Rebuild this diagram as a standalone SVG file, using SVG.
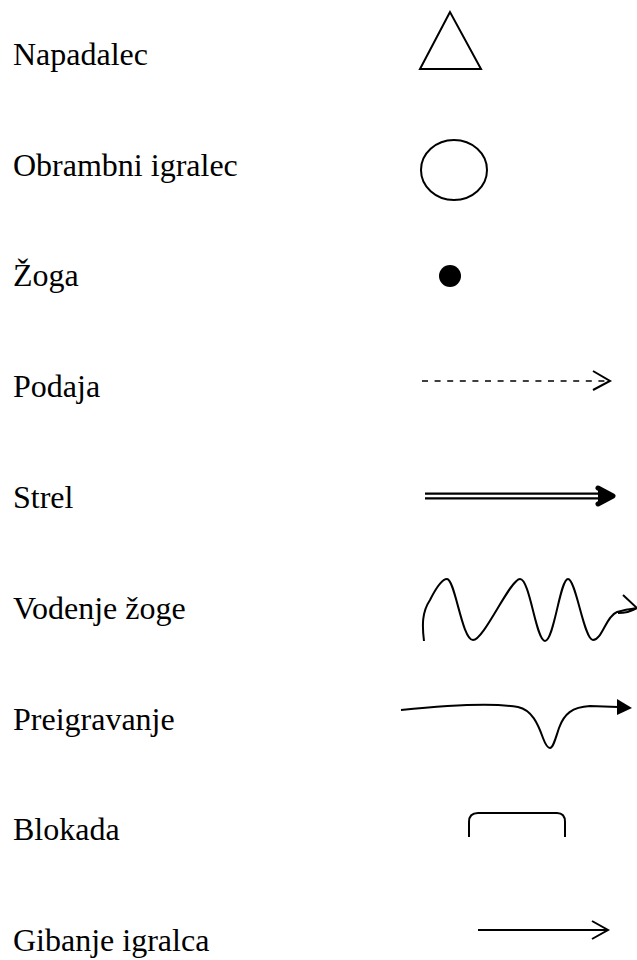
<svg xmlns="http://www.w3.org/2000/svg" width="637" height="960" viewBox="0 0 637 960">
<style>
.t{font-family:"Liberation Serif","Times New Roman",serif;font-size:32px;fill:#000}
.s{fill:none;stroke:#000;stroke-width:2}
</style>
<rect width="637" height="960" fill="#fff"/>
<g id="labels">
<text class="t" x="13" y="65">Napadalec</text>
<text class="t" x="13" y="176">Obrambni igralec</text>
<text class="t" x="13" y="286">Žoga</text>
<text class="t" x="13" y="397">Podaja</text>
<text class="t" x="13" y="508">Strel</text>
<text class="t" x="13" y="619">Vodenje žoge</text>
<text class="t" x="13" y="730">Preigravanje</text>
<text class="t" x="13" y="840">Blokada</text>
<text class="t" x="13" y="951">Gibanje igralca</text>
</g>
<g id="napadalec"><polygon class="s" points="450,12 420,69 481,69"/></g>
<g id="obrambni"><ellipse class="s" cx="454" cy="170" rx="33" ry="30"/></g>
<g id="zoga"><circle cx="450" cy="276" r="11" fill="#000"/></g>
<g id="connectors">
<g id="podaja">
<line x1="422" y1="381" x2="606" y2="381" stroke="#000" stroke-width="1.6" stroke-dasharray="6 6.6"/>
<polyline class="s" points="593,371 610,381 593,390"/>
</g>
<g id="strel">
<line x1="425" y1="496" x2="610" y2="496" stroke="#000" stroke-width="7"/>
<line x1="425" y1="496" x2="605" y2="496" stroke="#fff" stroke-width="2.5"/>
<polyline points="598,488 613,496 598,504" fill="#000" stroke="#000" stroke-width="5" stroke-linejoin="round" stroke-linecap="round"/>
</g>
<g id="vodenje">
<path class="s" d="M424,641 C422,625 422,612 430,600 C436,588 442,579 447,579 C455,579 462,640 473,640 C484,640 510,579 520,579 C530,579 536,641 545,641 C554,641 560,579 568,579 C576,579 584,640 593,640 C602,640 606,616 617,612 C624,610 630,609 637,608 C630,612 624,613 618,613"/>
<polyline class="s" points="623,595 637,608"/>
</g>
<g id="preigravanje">
<path class="s" d="M401,710 C450,705 495,703 518,707 C532,710 538,724 543,738 C546,746 548,748 550,748 C553,748 555,740 559,728 C564,714 572,707 590,706 L618,707"/>
<polygon points="617,699 632,708 617,715" fill="#000"/>
</g>
<g id="blokada">
<path class="s" d="M469,837 L469,822 Q469,813 478,813 L557,813 Q565,813 565,822 L565,837"/>
</g>
<g id="gibanje">
<line x1="478" y1="930" x2="607" y2="930" stroke="#000" stroke-width="2"/>
<polyline class="s" points="592,921 608,930 592,939"/>
</g>
</g>
</svg>
